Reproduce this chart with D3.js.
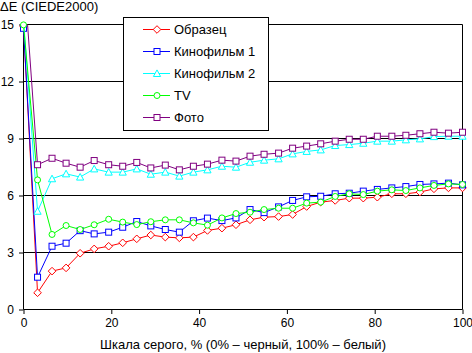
<!DOCTYPE html>
<html><head><meta charset="utf-8">
<script src="https://cdn.jsdelivr.net/npm/d3@7"></script>
<style>body{margin:0;background:#fff} text{font-family:Arial,"Liberation Sans",sans-serif;fill:#000}</style>
</head><body><svg id="c" width="472" height="353"></svg>
<script>
const grayLevels = [0, 3.2, 6.5, 9.7, 12.9, 16.1, 19.4, 22.6, 25.8, 29.0, 32.3, 35.5, 38.7, 41.9, 45.2, 48.4, 51.6, 54.8, 58.1, 61.3, 64.5, 67.7, 71.0, 74.2, 77.4, 80.6, 83.9, 87.1, 90.3, 93.5, 96.8, 100];
const seriesNames = ["Образец", "Кинофильм 1", "Кинофильм 2", "TV", "Фото"];
const obrazets = [14.9, 0.88, 2.02, 2.19, 2.96, 3.19, 3.33, 3.51, 3.72, 3.92, 3.81, 3.77, 3.81, 4.16, 4.28, 4.46, 4.72, 4.86, 4.89, 5.0, 5.42, 5.65, 5.74, 5.86, 5.86, 5.91, 6.09, 6.09, 6.18, 6.35, 6.40, 6.40];
const kino1 = [14.8, 1.70, 3.33, 3.49, 4.15, 3.98, 4.07, 4.33, 4.63, 4.40, 4.21, 4.07, 4.67, 4.81, 4.68, 4.82, 5.26, 5.10, 5.40, 5.74, 5.93, 5.96, 6.09, 6.12, 6.23, 6.32, 6.40, 6.47, 6.58, 6.61, 6.65, 6.56];
const kino2 = [15.3, 5.17, 6.88, 7.14, 6.97, 7.40, 7.23, 7.23, 7.40, 7.12, 7.23, 7.02, 7.23, 7.35, 7.54, 7.49, 7.75, 7.86, 7.93, 8.19, 8.32, 8.40, 8.63, 8.68, 8.75, 8.86, 8.86, 8.93, 8.98, 9.10, 9.12, 9.12];
const tv = [14.98, 6.82, 3.95, 4.42, 4.21, 4.46, 4.75, 4.60, 4.47, 4.62, 4.72, 4.72, 4.56, 4.44, 4.82, 5.05, 5.12, 5.26, 5.33, 5.33, 5.60, 5.65, 5.95, 6.09, 6.05, 6.23, 6.30, 6.26, 6.40, 6.53, 6.61, 6.58];
const foto = [18.0, 7.62, 7.96, 7.70, 7.49, 7.84, 7.62, 7.54, 7.74, 7.45, 7.60, 7.35, 7.54, 7.65, 7.86, 7.81, 8.07, 8.17, 8.23, 8.49, 8.60, 8.72, 8.86, 8.96, 8.96, 9.12, 9.12, 9.17, 9.25, 9.33, 9.28, 9.33];
const seriesColors = ["#ff0000", "#0000ff", "#00ffff", "#00ff00", "#800080"];
const seriesMarkers = ["diamond", "square", "triangle", "circle", "square"];
const xTicks = [0, 20, 40, 60, 80, 100];
const yTicks = [0, 3, 6, 9, 12, 15];
const yTitle = "ΔE (CIEDE2000)";
const xTitle = "Шкала серого, % (0% – черный, 100% – белый)";

const allSeries = [obrazets, kino1, kino2, tv, foto];
const svg = d3.select("#c");
const x = d3.scaleLinear().domain([0, 100]).range([23.5, 462.5]);
const y = d3.scaleLinear().domain([0, 15]).range([309.5, 24.5]);

svg.append("defs").append("clipPath").attr("id", "plot")
  .append("rect").attr("x", x(0) - 1).attr("y", y(15)).attr("width", x(100) - x(0) + 2).attr("height", y(0) - y(15));

// grid
svg.append("g").selectAll("line").data(yTicks.filter(d => d > 0)).join("line")
  .attr("x1", x(0)).attr("x2", x(100)).attr("y1", d => y(d)).attr("y2", d => y(d))
  .attr("stroke", "#000").attr("stroke-width", 1);

// axes
const yAxis = d3.axisLeft(y).tickValues(yTicks).tickSize(4.5).tickPadding(5).tickFormat(d3.format("d"));
const gy = svg.append("g").attr("transform", `translate(${x(0)},0)`).call(yAxis);
const xAxis = d3.axisBottom(x).tickValues(xTicks).tickSize(4.5).tickPadding(4).tickFormat(d3.format("d"));
const gx = svg.append("g").attr("transform", `translate(0,${y(0)})`).call(xAxis);
[gx, gy].forEach(g => {
  g.select(".domain").remove();
  g.selectAll("line").attr("stroke", "#000");
  g.selectAll("text").style("font-size", "12px").attr("fill", "#000");
});
gy.selectAll("text").attr("dy", "0.36em");
svg.append("line").attr("x1", x(0)).attr("x2", x(0)).attr("y1", y(15)).attr("y2", y(0)).attr("stroke", "#000");
svg.append("line").attr("x1", x(100)).attr("x2", x(100)).attr("y1", y(15)).attr("y2", y(0)).attr("stroke", "#000");
svg.append("line").attr("x1", x(0)).attr("x2", x(100)).attr("y1", y(0)).attr("y2", y(0)).attr("stroke", "#000");

function marker(sel, type, color) {
  if (type === "square") {
    sel.append("rect").attr("x", -3).attr("y", -3).attr("width", 6).attr("height", 6);
  } else if (type === "diamond") {
    sel.append("path").attr("d", "M0,-3.8L3.8,0L0,3.8L-3.8,0Z");
  } else if (type === "triangle") {
    sel.append("path").attr("d", "M0,-3.6L3.6,3L-3.6,3Z");
  } else {
    sel.append("circle").attr("r", 3);
  }
  sel.selectAll("*").attr("fill", "#fff").attr("stroke", color).attr("stroke-width", 1);
}

const line = d3.line().x(d => x(d[0])).y(d => y(d[1]));
allSeries.forEach((vals, si) => {
  const pts = grayLevels.map((g, i) => [g, vals[i]]);
  const g = svg.append("g");
  g.append("path").attr("d", line(pts)).attr("fill", "none")
    .attr("stroke", seriesColors[si]).attr("stroke-width", 1).attr("clip-path", "url(#plot)");
  g.selectAll("g.m").data(pts.filter(p => p[1] <= 15)).join("g").attr("class", "m")
    .attr("transform", d => `translate(${x(d[0])},${y(d[1])})`)
    .each(function () { marker(d3.select(this), seriesMarkers[si], seriesColors[si]); });
});

// legend
const lg = svg.append("g");
lg.append("rect").attr("x", 123.5).attr("y", 17.5).attr("width", 145).attr("height", 113)
  .attr("fill", "#fff").attr("stroke", "#000");
seriesNames.forEach((name, i) => {
  const yy = 29.5 + i * 22;
  lg.append("line").attr("x1", 143).attr("x2", 170).attr("y1", yy).attr("y2", yy).attr("stroke", seriesColors[i]);
  const m = lg.append("g").attr("transform", `translate(157,${yy})`);
  marker(m, seriesMarkers[i], seriesColors[i]);
  lg.append("text").attr("x", 174).attr("y", yy + 4.5).style("font-size", "13px").text(name);
});

// titles
svg.append("text").attr("x", 0).attr("y", 11).style("font-size", "13px").text(yTitle);
svg.append("text").attr("x", 243).attr("y", 349).attr("text-anchor", "middle").style("font-size", "13px").text(xTitle);
</script></body></html>
